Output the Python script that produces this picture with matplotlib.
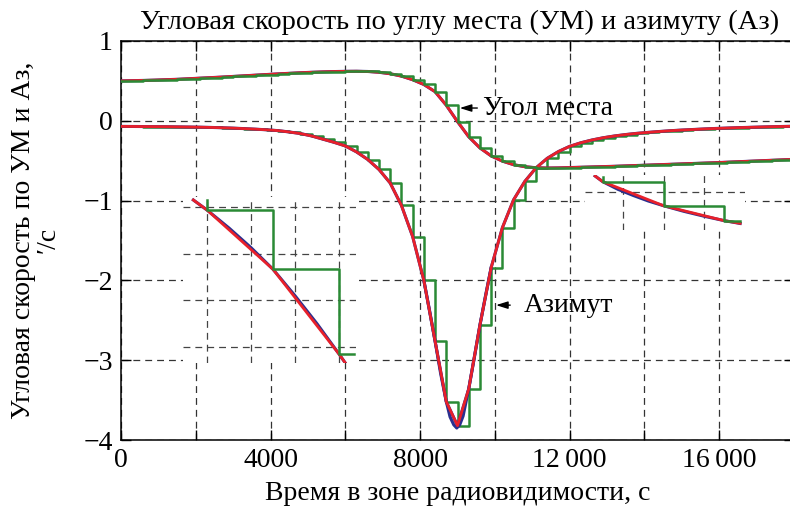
import numpy as np
import matplotlib
matplotlib.use('Agg')
import matplotlib.pyplot as plt

plt.rcParams['font.family'] = ['Liberation Serif', 'DejaVu Serif']
plt.rcParams['axes.unicode_minus'] = True

W, H = 790, 509

# ---------------- data ----------------
sample_t = [0, 300, 600, 900, 1200, 1500, 1800, 2100, 2400, 2700,
            3000, 3300, 3600, 3900, 4200, 4500, 4800, 5100, 5400, 5700,
            6000, 6300, 6600, 6900, 7200, 7500, 7800, 8100, 8400, 8700,
            9000, 9300, 9600, 9900, 10200, 10500, 10800, 11100, 11400, 11700,
            12000, 12300, 12600, 12900, 13200, 13500, 13800, 14100, 14400, 14700,
            15000, 15300, 15600, 15900, 16200, 16500, 16800, 17100, 17400, 17700,
            18000]

elev_rate = [0.500, 0.503, 0.506, 0.510, 0.515, 0.520, 0.527, 0.534, 0.541, 0.548,
             0.556, 0.564, 0.572, 0.580, 0.588, 0.595, 0.602, 0.608, 0.613, 0.617,
             0.620, 0.621, 0.618, 0.608, 0.590, 0.560, 0.515, 0.455, 0.365, 0.195,
             -0.010, -0.200, -0.340, -0.440, -0.505, -0.550, -0.575, -0.588, -0.592, -0.590,
             -0.586, -0.582, -0.578, -0.574, -0.570, -0.565, -0.560, -0.555, -0.550, -0.545,
             -0.540, -0.535, -0.530, -0.525, -0.519, -0.513, -0.507, -0.501, -0.495, -0.489,
             -0.483]

azim_rate = [-0.070, -0.071, -0.072, -0.073, -0.074, -0.076, -0.078, -0.080, -0.083, -0.087,
             -0.092, -0.098, -0.105, -0.113, -0.123, -0.140, -0.160, -0.190, -0.230, -0.270,
             -0.315, -0.390, -0.485, -0.610, -0.780, -1.060, -1.450, -2.000, -2.760, -3.520,
             -3.820, -3.360, -2.560, -1.840, -1.340, -0.990, -0.760, -0.590, -0.470, -0.385,
             -0.320, -0.275, -0.240, -0.212, -0.190, -0.172, -0.157, -0.145, -0.134, -0.124,
             -0.116, -0.109, -0.102, -0.096, -0.091, -0.086, -0.082, -0.078, -0.074, -0.071,
             -0.068]

# continuous (blue) azimuth curve around the minimum
dip_t = [8100, 8250, 8400, 8550, 8700, 8800, 8900, 8980, 9060, 9150, 9300, 9450, 9600, 9750, 9900]
dip_rate = [-2.00, -2.37, -2.76, -3.17, -3.52, -3.71, -3.81, -3.85, -3.81, -3.70, -3.36, -2.97, -2.56, -2.19, -1.84]

# left inset (zoomed fragment): time offset, s; rate, grid units
li_red_t = [-62, 0, 300, 600, 627]
li_red_v = [0.15, -0.064, -1.334, -3.148, -3.33]
li_blue_t = [-62, 0, 100, 200, 300, 400, 500, 600, 627]
li_blue_v = [0.15, -0.064, -0.45, -0.87, -1.334, -1.90, -2.50, -3.148, -3.33]
li_step_t = [0, 0, 300, 600, 668]
li_step_v = [0.15, -0.064, -1.334, -3.148, -3.148]
li_grid_t = [0, 200, 400, 600]
li_grid_v = [0, -1, -2, -3]

# right inset
ri_red_t = [62, 100, 400, 700, 778]
ri_red_v = [0.336, 0.214, -0.30, -0.62, -0.677]
ri_blue_t = [62, 100, 175, 250, 325, 400, 500, 600, 700, 778]
ri_blue_v = [0.336, 0.214, 0.05, -0.08, -0.20, -0.30, -0.42, -0.525, -0.62, -0.68]
ri_step_t = [100, 100, 400, 700, 778]
ri_step_v = [0.31, 0.214, -0.30, -0.62, -0.62]
ri_grid_t = [200, 400, 600]
ri_grid_v = [0]

x_ticks = [0, 2000, 4000, 6000, 8000, 10000, 12000, 14000, 16000, 18000]
x_labels = ['0', '', '4000', '', '8000', '', '12\u2009000', '', '16\u2009000', '']
y_ticks = [1, 0, -1, -2, -3, -4]
y_labels = ['1', '0', '\u22121', '\u22122', '\u22123', '\u22124']

title = 'Угловая скорость по углу места (УМ) и азимуту (Аз)'
xlabel = 'Время в зоне радиовидимости, с'
ylabel = 'Угловая скорость по УМ и Аз,\n\u2032/с'

RED = '#e8202a'
BLUE = '#2a2f8f'
GREEN = '#2a8a35'
FS = 20


def px_box(x0, y0, x1, y1):
    return [x0 / W, 1 - y1 / H, (x1 - x0) / W, (y1 - y0) / H]


fig = plt.figure(figsize=(W / 100, H / 100), dpi=100)
ax = fig.add_axes(px_box(121, 41, 794, 440))
ax.set_xlim(0, 18000)
ax.set_ylim(-4, 1)
ax.set_xticks(x_ticks)
ax.set_xticklabels(x_labels)
ax.set_yticks(y_ticks)
ax.set_yticklabels(y_labels)
ax.tick_params(direction='in', length=7, width=1.0, labelsize=FS,
               top=True, right=True, pad=6)
for s in ax.spines.values():
    s.set_linewidth(1.1)
ax.grid(True, linestyle=(0, (5.5, 4)), color='#333333', linewidth=0.9)
ax.set_axisbelow(True)

# azimuth: green steps under the red line
ax.step(sample_t, azim_rate, where='post', color=GREEN, lw=1.8, zorder=2)
ax.plot(sample_t, azim_rate, color=BLUE, lw=2.2, zorder=3)
ax.plot(dip_t, dip_rate, color=BLUE, lw=2.2, zorder=3)
ax.plot(sample_t, azim_rate, color=RED, lw=2.0, zorder=4)

# elevation: green steps on top
ax.plot(sample_t, elev_rate, color=BLUE, lw=2.2, zorder=3)
ax.plot(sample_t, elev_rate, color=RED, lw=2.0, zorder=4)
ax.step(sample_t, elev_rate, where='post', color=GREEN, lw=1.8, zorder=5)

arrow = dict(arrowstyle='-|>,head_length=0.7,head_width=0.22', color='black',
             lw=1.0, shrinkA=0, shrinkB=0)
ax.annotate('', xy=(9060, 0.16), xytext=(9530, 0.16), arrowprops=arrow, zorder=6)
ax.text(9690, 0.16, 'Угол места', ha='left', va='center', fontsize=FS, zorder=6)
ax.annotate('', xy=(10030, -2.31), xytext=(10410, -2.31), arrowprops=arrow, zorder=6)
ax.text(10760, -2.31, 'Азимут', ha='left', va='center', fontsize=FS, zorder=6)


def make_inset(box, xlim, ylim, gx, gy):
    ia = fig.add_axes(px_box(*box))
    ia.set_facecolor('white')
    ia.set_xlim(*xlim)
    ia.set_ylim(*ylim)
    ia.set_xticks(gx)
    ia.set_yticks(gy)
    ia.tick_params(length=0, labelbottom=False, labelleft=False)
    for s in ia.spines.values():
        s.set_visible(False)
    ia.grid(True, linestyle=(0, (5.5, 4)), color='#444444', linewidth=0.9)
    ia.set_axisbelow(True)
    return ia


li = make_inset((183, 197, 356, 363), (-109, 677), (-3.34, 0.214), li_grid_t, li_grid_v)
li.plot(li_blue_t, li_blue_v, color=BLUE, lw=2.2, zorder=2)
li.plot(li_red_t, li_red_v, color=RED, lw=2.0, zorder=3)
li.step(li_step_t, li_step_v, where='post', color=GREEN, lw=1.8, zorder=4)

ri = make_inset((585, 175, 745, 230), (12, 802), (-0.82, 0.358), ri_grid_t, ri_grid_v)
ri.plot(ri_blue_t, ri_blue_v, color=BLUE, lw=2.2, zorder=2)
ri.plot(ri_red_t, ri_red_v, color=RED, lw=2.0, zorder=3)
ri.step(ri_step_t, ri_step_v, where='post', color=GREEN, lw=1.8, zorder=4)

fig.text(460 / W, 1 - 22 / H, title, ha='center', va='center', fontsize=20.5)
fig.text(458 / W, 1 - 494 / H, xlabel, ha='center', va='center', fontsize=FS)
fig.text(36 / W, 1 - 240 / H, ylabel, ha='center', va='center', rotation=90,
         multialignment='center', linespacing=1.0, fontsize=FS)

fig.savefig('out.png', dpi=100)
